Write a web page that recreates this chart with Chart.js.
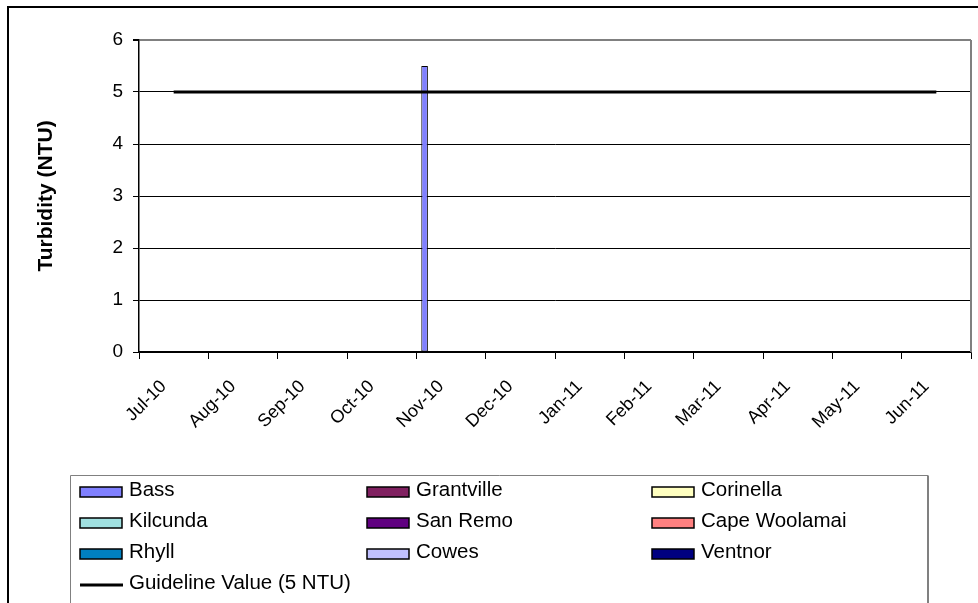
<!DOCTYPE html>
<html>
<head>
<meta charset="utf-8">
<title>Turbidity</title>
<script src="https://cdn.jsdelivr.net/npm/chart.js@4"></script>
<style>
  html, body { margin: 0; padding: 0; background: #fff; overflow: hidden; }
  #frame { position: absolute; left: 7px; top: 6px; width: 1000px; height: 700px; border: 2px solid #000; }
  #wrap { position: absolute; left: 0; top: 0; width: 978px; height: 603px; }
</style>
</head>
<body>
<div id="frame"></div>
<div id="wrap"><canvas id="myChart" width="978" height="603"></canvas></div>
<script>
"use strict";

const months = ['Jul-10', 'Aug-10', 'Sep-10', 'Oct-10', 'Nov-10', 'Dec-10',
  'Jan-11', 'Feb-11', 'Mar-11', 'Apr-11', 'May-11', 'Jun-11'];

// turbidity per site (NTU), null = no sample
const bass         = [null, null, null, null, 5.5, null, null, null, null, null, null, null];
const grantville   = [null, null, null, null, null, null, null, null, null, null, null, null];
const corinella    = [null, null, null, null, null, null, null, null, null, null, null, null];
const kilcunda     = [null, null, null, null, null, null, null, null, null, null, null, null];
const sanRemo      = [null, null, null, null, null, null, null, null, null, null, null, null];
const capeWoolamai = [null, null, null, null, null, null, null, null, null, null, null, null];
const rhyll        = [null, null, null, null, null, null, null, null, null, null, null, null];
const cowes        = [null, null, null, null, null, null, null, null, null, null, null, null];
const ventnor      = [null, null, null, null, null, null, null, null, null, null, null, null];
const guideline    = [5, 5, 5, 5, 5, 5, 5, 5, 5, 5, 5, 5];

const siteNames  = ['Bass', 'Grantville', 'Corinella', 'Kilcunda', 'San Remo', 'Cape Woolamai', 'Rhyll', 'Cowes', 'Ventnor'];
const siteData   = [bass, grantville, corinella, kilcunda, sanRemo, capeWoolamai, rhyll, cowes, ventnor];
const siteColors = ['#8080FF', '#802060', '#FFFFC0', '#A0E0E0', '#600080', '#FF8080', '#0080C0', '#C0C0FF', '#000080'];

const yTicks = [0, 1, 2, 3, 4, 5, 6];

const FONT = '"Liberation Sans", Arial, sans-serif';

const datasets = siteNames.map((name, i) => ({
  type: 'bar',
  label: name,
  data: siteData[i],
  backgroundColor: siteColors[i],
  borderColor: '#000',
  borderWidth: 1,
  borderSkipped: false,
  categoryPercentage: 9 / 10.5,
  barPercentage: 1,
  order: 1
}));

datasets.push({
  type: 'line',
  label: 'Guideline Value (5 NTU)',
  data: guideline,
  borderColor: '#000',
  borderWidth: 3,
  pointRadius: 0,
  tension: 0,
  order: 0
});

// legend laid out in a 3-column grid under the plot, with a frame
const gridLegend = {
  id: 'gridLegend',
  afterDraw(chart) {
    const c = chart.ctx;
    const box = { left: 70.5, top: 475.5, right: 928, bottom: 640 };
    const cols = [80, 367, 652];
    const rows = [492, 523, 554, 585];
    c.save();
    c.strokeStyle = '#808080';
    c.lineWidth = 1;
    c.beginPath();
    c.moveTo(box.left, box.bottom);
    c.lineTo(box.left, box.top);
    c.lineTo(box.right, box.top);
    c.stroke();
    c.lineWidth = 2;
    c.beginPath();
    c.moveTo(box.right, box.top);
    c.lineTo(box.right, box.bottom);
    c.stroke();
    c.font = '20.5px ' + FONT;
    c.textBaseline = 'middle';
    chart.data.datasets.forEach((ds, i) => {
      const x = cols[i % 3];
      const y = rows[Math.floor(i / 3)];
      if (ds.type === 'line') {
        c.strokeStyle = '#000';
        c.lineWidth = 3;
        c.beginPath();
        c.moveTo(x, y);
        c.lineTo(x + 43, y);
        c.stroke();
      } else {
        c.fillStyle = ds.backgroundColor;
        c.fillRect(x, y - 5, 42, 10);
        c.strokeStyle = '#000';
        c.lineWidth = 1.5;
        c.strokeRect(x, y - 5, 42, 10);
      }
      c.fillStyle = '#000';
      c.fillText(ds.label, x + 49, y - 1.5);
    });
    c.restore();
  }
};

// grey right-hand edge of the plot area
const plotEdge = {
  id: 'plotEdge',
  beforeDatasetsDraw(chart) {
    const { ctx, chartArea } = chart;
    ctx.save();
    ctx.strokeStyle = '#808080';
    ctx.lineWidth = 2;
    ctx.beginPath();
    ctx.moveTo(chartArea.right, chartArea.top);
    ctx.lineTo(chartArea.right, chartArea.bottom);
    ctx.stroke();
    ctx.restore();
  }
};

const ctx = document.getElementById('myChart').getContext('2d');

new Chart(ctx, {
  data: { labels: months, datasets },
  plugins: [plotEdge, gridLegend],
  options: {
    responsive: false,
    animation: false,
    layout: { padding: { left: 30, top: 40, right: 7, bottom: 0 } },
    plugins: {
      legend: { display: false },
      tooltip: { enabled: false }
    },
    scales: {
      x: {
        offset: true,
        afterFit: (scale) => { scale.height = 251; },
        grid: {
          offset: true,
          drawOnChartArea: false,
          tickLength: 7,
          tickColor: '#000',
          tickWidth: 1
        },
        border: { color: '#000', width: 1.5 },
        ticks: {
          color: '#000',
          font: { family: FONT, size: 18 },
          minRotation: 45,
          maxRotation: 45,
          padding: 17,
          labelOffset: -10,
          autoSkip: false
        }
      },
      y: {
        min: 0,
        max: 6,
        afterFit: (scale) => { scale.width = 109; },
        afterBuildTicks: (scale) => { scale.ticks = yTicks.map(v => ({ value: v })); },
        grid: {
          color: (c) => (c.tick && c.tick.value === 6 ? '#808080' : '#000'),
          lineWidth: (c) => (c.tick && c.tick.value === 6 ? 2 : 1),
          tickLength: 6,
          tickColor: '#000'
        },
        border: { color: '#000', width: 1.5 },
        ticks: {
          color: '#000',
          font: { family: FONT, size: 19 },
          padding: 10
        },
        title: {
          display: true,
          text: 'Turbidity (NTU)',
          color: '#000',
          font: { family: FONT, size: 21, weight: 'bold' }
        }
      }
    }
  }
});
</script>
</body>
</html>
